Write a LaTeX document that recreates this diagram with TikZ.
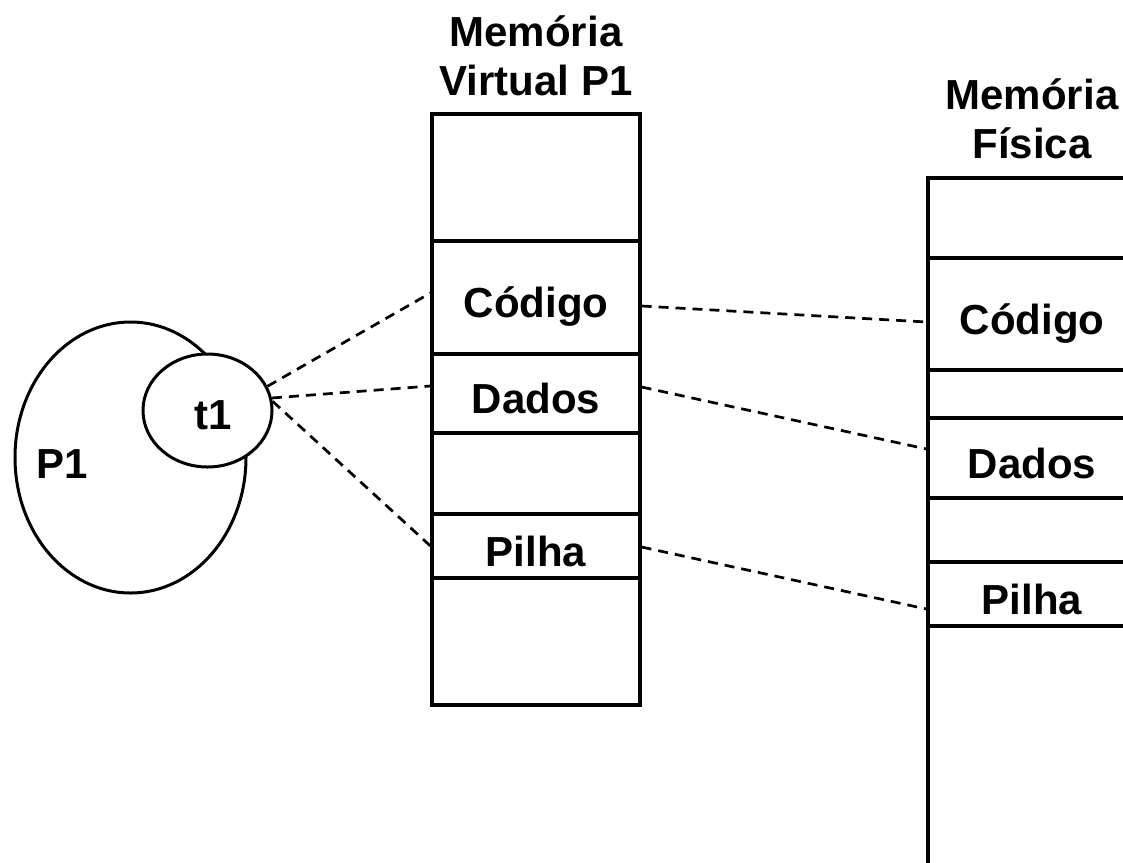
\documentclass[tikz,border=0pt]{standalone}
\usepackage{fontspec}
\setmainfont{Liberation Sans}
\usetikzlibrary{shapes.geometric}

\tikzset{
  seg/.style={draw, line width=3.1pt, inner sep=0pt, minimum width=208pt,
    text height=40pt, text depth=0pt, font=\bfseries\fontsize{42}{49}\selectfont},
  proc/.style={draw, ellipse, line width=3pt, inner sep=0pt, fill=white},
  lbl/.style={inner sep=0pt, font=\bfseries\fontsize{42}{49}\selectfont},
  head/.style={lbl, align=center, anchor=south},
  link/.style={line width=2.7pt, dash pattern=on 10pt off 7pt}
}

\begin{document}
\begin{tikzpicture}[x=1pt,y=-1pt]
  \useasboundingbox (0,0) rectangle (1123,862);
  \clip (0,0) rectangle (1123,862);
  % processo e thread
  \node[proc, minimum width=231pt, minimum height=271pt] (p1) at (130.5,457.5) {};
  \node[proc, minimum width=129pt, minimum height=113pt] (t1) at (207.5,410.5) {};
  \node[lbl] (p1txt) at (62,464) {P1};
  \node[lbl] (t1txt) at (213,415.5) {t1};
  % memoria virtual
  \node[head] (vhead) at (536,96) {Memória\\Virtual P1};
  \foreach \name/\ya/\yb/\txt in {vtop/114/241/{}, vcod/241/354/Código, vdat/354/433/Dados,
      vmid/433/514/{}, vpil/514/578/Pilha, vbot/578/705/{}}
    \node[seg, minimum height=(\yb-\ya)*1pt] (\name) at (536,{(\ya+\yb)/2}) {\txt};
  % memoria fisica
  \node[head] (fhead) at (1032,159) {Memória\\Física};
  \foreach \name/\ya/\yb/\txt in {ftop/178/258/{}, fcod/258/370/Código, fgap/370/418/{},
      fdat/418/498/Dados, fgapb/498/562/{}, fpil/562/626/Pilha, fbot/626/900/{}}
    \node[seg, minimum height=(\yb-\ya)*1pt] (\name) at (1032,{(\ya+\yb)/2}) {\txt};
  % ligacoes
  \draw[link] (t1.22) -- ([yshift=4.5pt]vcod.west);
  \draw[link] (t1.11) -- ([yshift=7.5pt]vdat.west);
  \draw[link] (t1.8) -- (vpil.west);
  \draw[link] ([yshift=-8.5pt]vcod.east) -- ([yshift=-8pt]fcod.west);
  \draw[link] ([yshift=6.5pt]vdat.east) -- ([yshift=9pt]fdat.west);
  \draw[link] ([yshift=-1pt]vpil.east) -- ([yshift=-15pt]fpil.west);
\end{tikzpicture}
\end{document}
